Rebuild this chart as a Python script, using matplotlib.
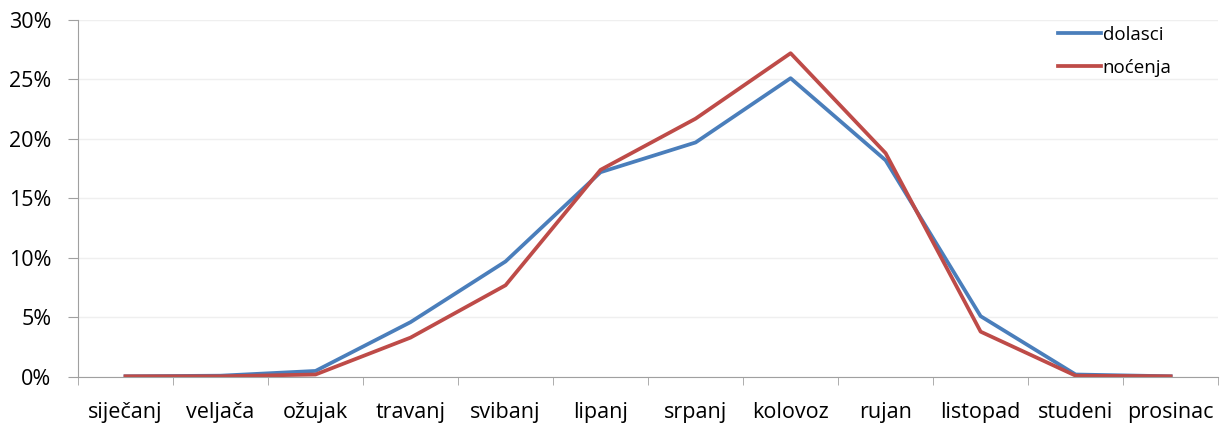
import matplotlib
matplotlib.use("Agg")
from matplotlib import pyplot as plt
import matplotlib.ticker as ticker

months = ["siječanj", "veljača", "ožujak", "travanj", "svibanj", "lipanj",
          "srpanj", "kolovoz", "rujan", "listopad", "studeni", "prosinac"]
dolasci = [0.05, 0.1, 0.5, 4.6, 9.7, 17.2, 19.7, 25.1, 18.2, 5.1, 0.2, 0.05]
nocenja = [0.05, 0.05, 0.2, 3.3, 7.7, 17.4, 21.7, 27.2, 18.8, 3.8, 0.1, 0.05]

plt.rcParams['font.family'] = ['Open Sans', 'DejaVu Sans']

fig = plt.figure(figsize=(12.28, 4.23), dpi=100)
ax = fig.add_axes([0.0635, 0.109, 0.9285, 0.844])

x = range(len(months))
ax.plot(x, dolasci, color="#4A7EBB", lw=2.7, label="dolasci")
ax.plot(x, nocenja, color="#BE4B48", lw=2.7, label="noćenja")

ax.set_xlim(-0.5, len(months) - 0.5)
ax.set_ylim(0, 30)
ax.yaxis.set_major_locator(ticker.MultipleLocator(5))
ax.yaxis.set_major_formatter(ticker.FuncFormatter(lambda v, p: "%d%%" % v))
ax.grid(axis="y", color="#EFEFEF", lw=1)
ax.set_axisbelow(True)

ax.set_xticks(list(x))
ax.set_xticklabels(months)
ax.set_xticks([i - 0.5 for i in range(len(months) + 1)], minor=True)
ax.tick_params(axis="x", which="major", length=0, pad=18, labelsize=15.5)
ax.tick_params(axis="x", which="minor", length=6, color="#A0A0A0")
ax.tick_params(axis="y", length=7, color="#A0A0A0", labelsize=15.5, pad=12)

for s in ["top", "right"]:
    ax.spines[s].set_visible(False)
for s in ["left", "bottom"]:
    ax.spines[s].set_color("#A0A0A0")

ax.legend(loc="upper right", bbox_to_anchor=(0.974, 1.03), frameon=False,
          fontsize=13.5, handlelength=2.3, handletextpad=0.1, labelspacing=0.8)

plt.savefig("out.png")
